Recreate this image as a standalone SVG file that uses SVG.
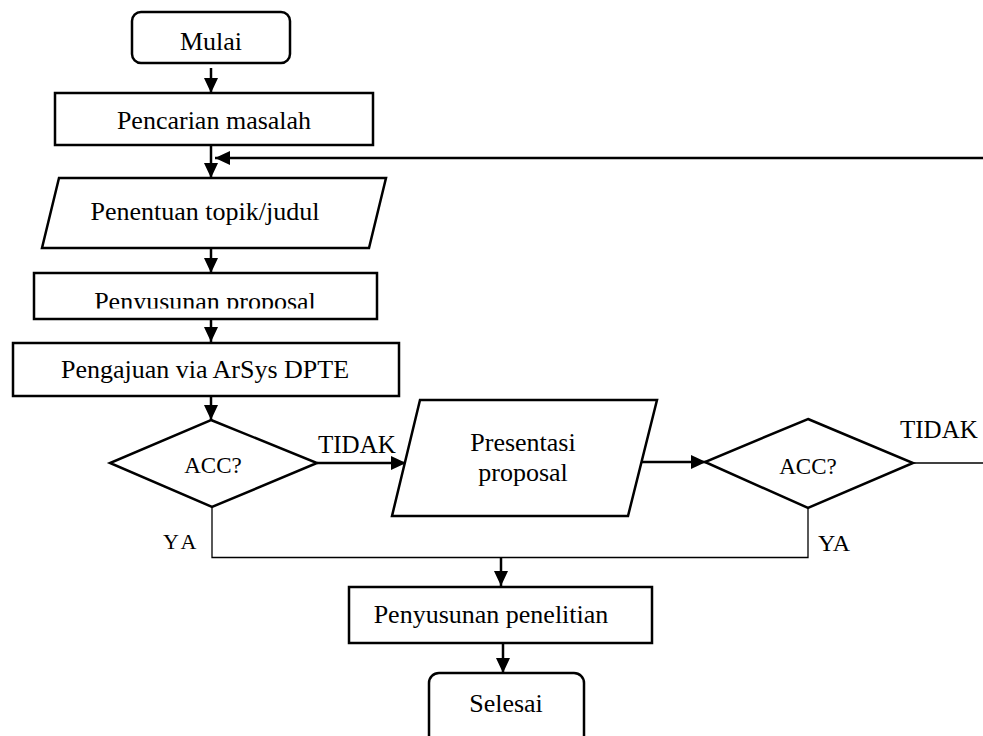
<svg xmlns="http://www.w3.org/2000/svg" width="983" height="736" viewBox="0 0 983 736">
<defs>
<marker id="ah" markerUnits="userSpaceOnUse" markerWidth="15" markerHeight="14" refX="15" refY="7" orient="auto">
<path d="M0,0 L15,7 L0,14 z" fill="#000"/>
</marker>
<clipPath id="clipProp"><rect x="34" y="273" width="343" height="35.5"/></clipPath>
</defs>
<style>
.box{fill:#fff;stroke:#000;stroke-width:2.5}
.t{font-family:"Liberation Serif","Times New Roman",serif;font-size:26px;fill:#000;text-anchor:middle}
.s{font-family:"Liberation Serif","Times New Roman",serif;font-size:23px;fill:#000;text-anchor:middle}
.lbl{font-family:"Liberation Serif","Times New Roman",serif;font-size:25px;fill:#000}
.c{fill:none;stroke:#000;stroke-width:2.5}
.thin{fill:none;stroke:#000;stroke-width:1.3}
</style>
<rect width="983" height="736" fill="#fff"/>
<g id="connectors">
<line class="c" x1="211" y1="68" x2="211" y2="93" marker-end="url(#ah)"/>
<line class="c" x1="211" y1="146" x2="211" y2="178" marker-end="url(#ah)"/>
<line class="c" x1="983" y1="158" x2="215" y2="158" marker-end="url(#ah)"/>
<line class="c" x1="211" y1="249" x2="211" y2="273" marker-end="url(#ah)"/>
<line class="c" x1="211" y1="320" x2="211" y2="342" marker-end="url(#ah)"/>
<line class="c" x1="211" y1="397" x2="211" y2="420" marker-end="url(#ah)"/>
<line class="c" x1="317" y1="463" x2="406" y2="463" marker-end="url(#ah)"/>
<line class="c" x1="640" y1="462" x2="706" y2="462" marker-end="url(#ah)"/>
<line class="thin" x1="913" y1="463" x2="983" y2="463"/>
<polyline class="thin" points="212,507 212,557.5 808,557.5 808,508"/>
<line class="c" x1="501" y1="558" x2="501" y2="586" marker-end="url(#ah)"/>
<line class="c" x1="503" y1="644" x2="503" y2="673" marker-end="url(#ah)"/>
<text class="lbl" x="318" y="453">TIDAK</text>
<text class="lbl" x="900" y="438">TIDAK</text>
<text class="lbl" x="163" y="549" style="font-size:22px;letter-spacing:4px">YA</text>
<text class="lbl" x="818" y="551" style="font-size:24px">YA</text>
</g>
<g id="mulai">
<rect class="box" x="132" y="12" width="158" height="51" rx="9"/>
<text class="t" x="211" y="50">Mulai</text>
</g>
<g id="pencarian">
<rect class="box" x="55" y="93" width="318" height="52"/>
<text class="t" x="214" y="129">Pencarian masalah</text>
</g>
<g id="penentuan">
<polygon class="box" points="59,178 386,178 369,248 42,248"/>
<text class="t" x="205" y="220">Penentuan topik/judul</text>
</g>
<g id="proposal">
<rect class="box" x="34" y="273" width="343" height="46"/>
<text class="t" x="205" y="310" clip-path="url(#clipProp)">Penyusunan proposal</text>
</g>
<g id="pengajuan">
<rect class="box" x="13" y="343" width="386" height="53"/>
<text class="t" x="205" y="378">Pengajuan via ArSys DPTE</text>
</g>
<g id="acc1">
<polygon class="box" points="211,420 317,463 212,507 110,463"/>
<text class="s" x="213" y="473">ACC?</text>
</g>
<g id="presentasi">
<polygon class="box" points="420,400 657,400 628,516 392,516"/>
<text class="t" x="523" y="451">Presentasi</text>
<text class="t" x="523" y="481">proposal</text>
</g>
<g id="acc2">
<polygon class="box" points="808,419 913,463 808,508 705,462"/>
<text class="s" x="808" y="474">ACC?</text>
</g>
<g id="penelitian">
<rect class="box" x="349" y="587" width="303" height="56"/>
<text class="t" x="491" y="623">Penyusunan penelitian</text>
</g>
<g id="selesai">
<rect class="box" x="429" y="673" width="155" height="75" rx="10"/>
<text class="t" x="506" y="712">Selesai</text>
</g>
</svg>
